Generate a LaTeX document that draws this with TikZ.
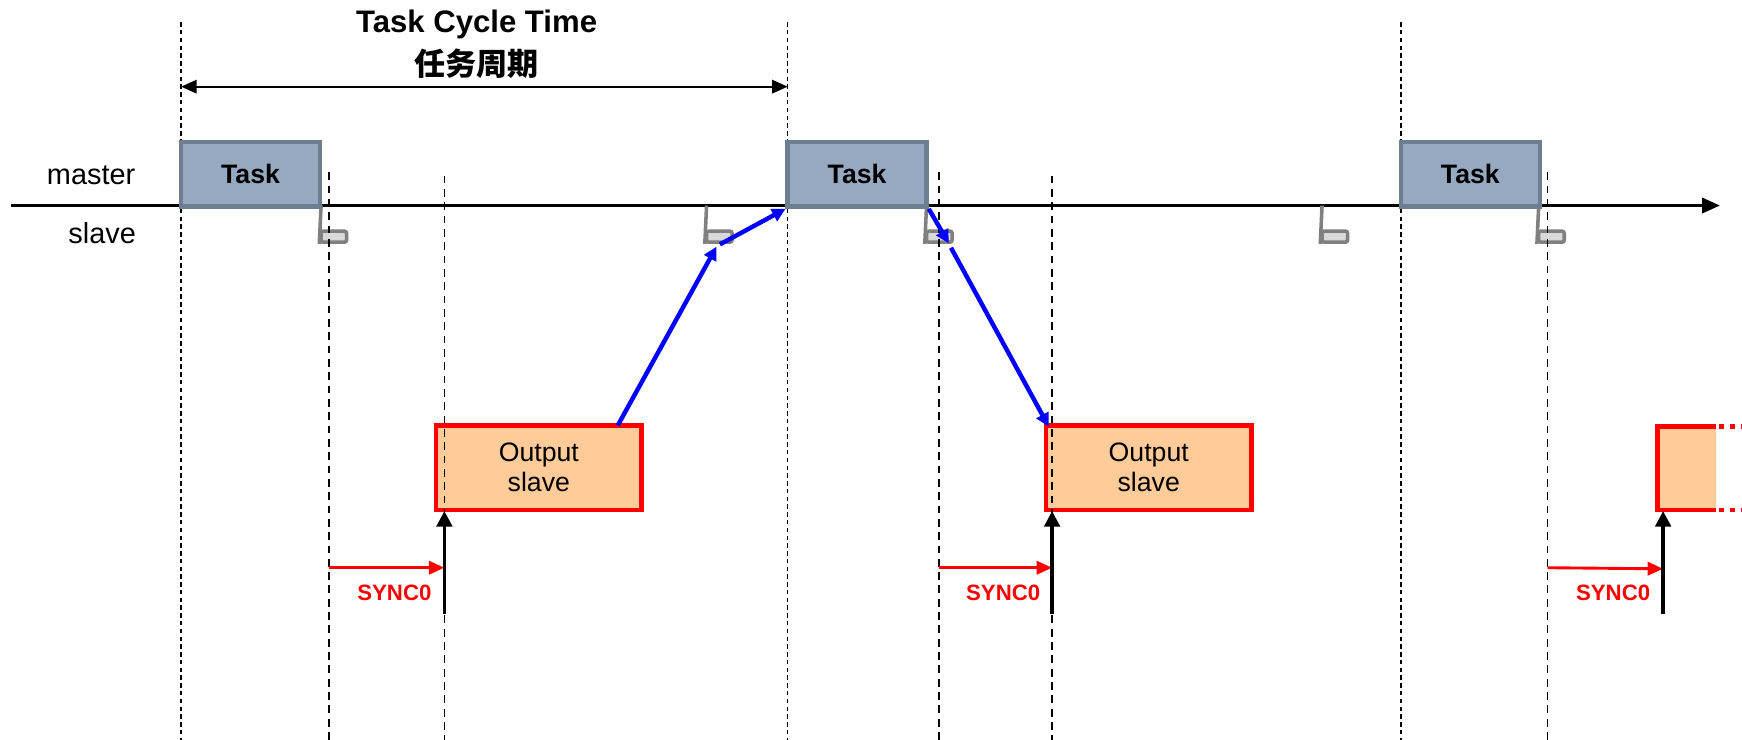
\documentclass[tikz,border=0pt]{standalone}
\usepackage{fontspec}
\setmainfont{Liberation Sans}
\newfontfamily\cjk{Noto Sans CJK SC}
\usetikzlibrary{arrows.meta}
\definecolor{taskfill}{HTML}{97A9C0}
\definecolor{taskdraw}{HTML}{6D7E90}
\definecolor{outfill}{HTML}{FFCC99}
\definecolor{footdraw}{HTML}{808080}
\definecolor{footfill}{HTML}{D9D9D9}
\begin{document}
\begin{tikzpicture}[x=0.5pt,y=-0.5pt,
 taskbox/.style={draw=taskdraw,fill=taskfill,line width=2pt,minimum width=62.5pt,minimum height=29pt,inner sep=0pt,font=\fontsize{12}{14}\selectfont\bfseries},
 outbox/.style={draw=red,fill=outfill,line width=2pt,minimum width=92.5pt,minimum height=38pt,inner sep=0pt,align=center,font=\fontsize{12}{13.5}\selectfont},
 foot/.style={draw=footdraw,fill=footfill,line width=1.6pt,rounded corners=1pt,minimum width=11.5pt,minimum height=5pt,inner sep=0pt},
 footleg/.style={draw=footdraw,line width=1.6pt},
 longdash/.style={dash pattern=on 2pt off 1.5pt,line width=0.6pt},
 shortdash/.style={dash pattern=on 3.5pt off 2.5pt,line width=0.7pt},
 bluearrow/.style={blue,line width=2pt,-{Triangle[length=6pt,width=6pt]}},
 syncarrow/.style={red,line width=1.3pt,-{Triangle[length=7pt,width=6pt]}},
 triggerarrow/.style={black,line width=1.5pt,-{Triangle[length=7pt,width=7pt]}},
 synclabel/.style={text=red,font=\fontsize{10}{12}\selectfont\bfseries},
 lane/.style={font=\fontsize{13}{15}\selectfont},
 titletext/.style={font=\fontsize{14}{16}\selectfont\bfseries}
]
\useasboundingbox (0,0) rectangle (1568,666);

% long dashed lines (cycle boundaries)
\foreach \n/\x in {1/163,2/709,3/1261}{
  \coordinate (L\n t) at (\x,20);
  \coordinate (L\n b) at (\x,666);
  \draw[longdash] (L\n t) -- (L\n b);
}

% title and cycle arrow
\node[titletext] (title) at (429,22) {Task Cycle Time};
\node[titletext] (titlecn) at (429,57) {\cjk\bfseries 任务周期};
\coordinate (cycA) at (163,78);
\coordinate (cycB) at (709,78);
\draw[line width=1pt,{Triangle[length=7pt,width=6pt]}-{Triangle[length=7pt,width=6pt]}] (cycA) -- (cycB);

% lane labels
\node[lane] (master) at (82,158) {master};
\node[lane] (slave) at (92,210) {slave};

% time line
\coordinate (tl0) at (10,185);
\coordinate (tl1) at (1548,185);
\draw[line width=1pt,-{Triangle[length=8pt,width=7pt]}] (tl0) -- (tl1);

% feet (slave frames)
\foreach \n/\x in {1/289,2/636,3/834,4/1190,5/1385}{
  \node[foot] (foot\n) at (\x+11.5,213) {};
  \coordinate (leg\n) at (\x,185);
  \draw[footleg] (leg\n) -- (foot\n.south west);
}

% master tasks
\node[taskbox] (task1) at (225.5,157) {Task};
\node[taskbox] (task2) at (771.5,157) {Task};
\node[taskbox] (task3) at (1323.5,157) {Task};

% output boxes
\node[outbox] (out1) at (485,421) {Output\\slave};
\node[outbox] (out2) at (1034,421) {Output\\slave};

% partial third output box
\fill[outfill] (1492,384) rectangle (1545,459);
\draw[red,line width=2pt] (1545,384) -- (1492,384) -- (1492,459) -- (1545,459);
\draw[red,line width=2pt,dash pattern=on 2.5pt off 2.5pt] (1547,384) -- (1568,384);
\draw[red,line width=2pt,dash pattern=on 2.5pt off 2.5pt] (1547,459) -- (1568,459);
\coordinate (out3b) at (1497,460);

% short dashed lines
\foreach \n/\x/\y in {1/296/155,2/400/158,3/845/155,4/947/158,5/1393/155}{
  \coordinate (S\n t) at (\x,\y);
  \coordinate (S\n b) at (\x,666);
  \draw[shortdash] (S\n t) -- (S\n b);
}

% blue data path
\coordinate (b1s) at (556,383);
\coordinate (b1e) at (645,222);
\coordinate (b2s) at (648,220);
\coordinate (b3e) at (854,219);
\coordinate (b4s) at (856,223);
\coordinate (b4e) at (944,384);
\draw[bluearrow] (b1s) -- (b1e);
\draw[bluearrow] (b2s) -- (task2.south west);
\draw[bluearrow] (task2.south east) -- (b3e);
\draw[bluearrow] (b4s) -- (b4e);

% SYNC0 arrows and triggers
\foreach \n/\xa/\xb/\ob in {1/296/400/out1,2/845/947/out2}{
  \coordinate (sa\n) at (\xa,511);
  \coordinate (sb\n) at (\xb,511);
  \coordinate (tr\n) at (\xb,553);
  \coordinate (te\n) at (\xb,460);
  \draw[syncarrow] (sa\n) -- (sb\n);
  \node[synclabel] (sl\n) at ({(\xa+\xb)/2+7},534) {SYNC0};
  \draw[triggerarrow] (tr\n) -- (te\n);
}
\coordinate (sa3) at (1393,511);
\coordinate (sb3) at (1497,512);
\coordinate (tr3) at (1497,553);
\draw[syncarrow] (sa3) -- (sb3);
\node[synclabel] (sl3) at (1452,534) {SYNC0};
\draw[triggerarrow] (tr3) -- (out3b);
\end{tikzpicture}
\end{document}
